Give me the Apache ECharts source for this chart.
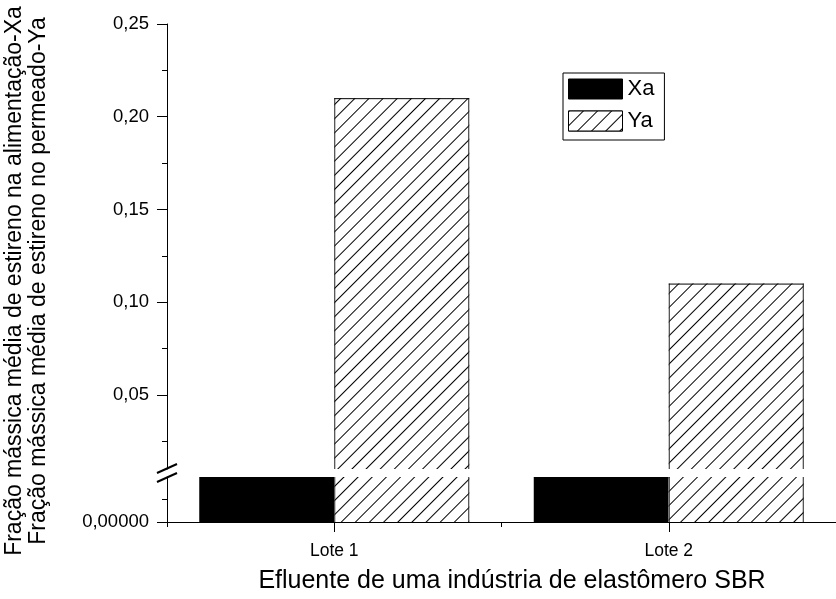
<!DOCTYPE html>
<html>
<head>
<meta charset="utf-8">
<script src="https://cdn.jsdelivr.net/npm/echarts@6/dist/echarts.min.js"></script>
<style>html,body{margin:0;padding:0;background:#fff}#c{width:836px;height:599px}</style>
</head>
<body>
<div id="c"></div>
<script>
const categories = ['Lote 1', 'Lote 2'];
const xaValues = [0.0001, 0.0001];
const yaValues = [0.21, 0.11];
const upperMajorTicks = [0.05, 0.10, 0.15, 0.20, 0.25];
const upperMinorTicks = [0.025, 0.075, 0.125, 0.175, 0.225];
const lowerMajorTicks = [0];
const lowerMinorTicks = [0.00005];
const upperRange = [0.01, 0.25];
const lowerRange = [0, 0.0001];

const FONT = 'Liberation Sans, Arial, sans-serif';
const BAR_W = 135;
const chart = echarts.init(document.getElementById('c'), null, {renderer: 'canvas'});
const hatch = {
  symbol: 'rect', symbolSize: 1, dashArrayX: [1, 9], dashArrayY: [1, 0],
  rotation: Math.PI / 4, color: '#000', backgroundColor: '#fff'
};
const fmt = v => v === 0 ? '0,00000' : v.toFixed(2).replace('.', ',');
const axisLine = {show: true, lineStyle: {color: '#000', width: 1}};

function outline(params, api) {
  const cs = params.coordSys;
  const p = api.coord([api.value(0), api.value(1)]);
  const left = p[0], right = p[0] + BAR_W;
  const bottom = cs.y + cs.height;
  const inside = p[1] >= cs.y;
  const top = inside ? p[1] : cs.y;
  const st = {stroke: '#222', lineWidth: 1};
  const kids = [
    {type: 'line', shape: {x1: left + 0.5, y1: top, x2: left + 0.5, y2: bottom}, style: st},
    {type: 'line', shape: {x1: right - 0.5, y1: top, x2: right - 0.5, y2: bottom}, style: st}
  ];
  if (inside) kids.push({type: 'line', shape: {x1: left, y1: top + 0.5, x2: right, y2: top + 0.5}, style: {stroke: '#000', lineWidth: 1}});
  return {type: 'group', children: kids};
}
const yaPairs = yaValues.map((v, i) => [i, v]);

const option = {
  animation: false,
  backgroundColor: '#fff',
  grid: [
    {left: 167, top: 24, width: 676, height: 445},
    {left: 167, top: 477, width: 676, height: 45}
  ],
  legend: {
    left: 563, top: 73, orient: 'vertical', itemWidth: 54, itemHeight: 20, itemGap: 10, icon: 'rect',
    padding: [5, 10, 8, 5], borderColor: '#000', borderWidth: 1,
    itemStyle: {borderColor: '#000', borderWidth: 1},
    textStyle: {fontFamily: FONT, fontSize: 22, color: '#000'},
    data: ['Xa', 'Ya']
  },
  xAxis: [
    {gridIndex: 0, type: 'category', data: categories, show: false},
    {gridIndex: 1, type: 'category', data: categories, position: 'bottom',
     axisLine: axisLine,
     axisTick: {show: true, alignWithLabel: true, length: 10, lineStyle: {color: '#000'}},
     axisLabel: {fontFamily: FONT, fontSize: 17.5, color: '#000', margin: 20}},
    {gridIndex: 1, type: 'category', data: categories, position: 'bottom',
     axisLine: {show: false},
     axisTick: {show: true, length: 5, lineStyle: {color: '#000'}},
     axisLabel: {show: false}}
  ],
  yAxis: [
    {gridIndex: 0, type: 'value', min: upperRange[0], max: upperRange[1], position: 'left',
     axisLine: axisLine, splitLine: {show: false},
     axisTick: {show: true, length: 10, customValues: upperMajorTicks, lineStyle: {color: '#000'}},
     axisLabel: {customValues: upperMajorTicks, formatter: fmt, fontFamily: FONT, fontSize: 18.5, color: '#000', margin: 18}},
    {gridIndex: 0, type: 'value', min: upperRange[0], max: upperRange[1], position: 'left', offset: 0,
     axisLine: {show: false}, splitLine: {show: false},
     axisTick: {show: true, length: 5, customValues: upperMinorTicks, lineStyle: {color: '#000'}},
     axisLabel: {show: false}},
    {gridIndex: 1, type: 'value', min: lowerRange[0], max: lowerRange[1], position: 'left',
     axisLine: axisLine, splitLine: {show: false},
     axisTick: {show: true, length: 10, customValues: lowerMajorTicks, lineStyle: {color: '#000'}},
     axisLabel: {customValues: lowerMajorTicks, formatter: fmt, fontFamily: FONT, fontSize: 18.5, color: '#000', margin: 18}},
    {gridIndex: 1, type: 'value', min: lowerRange[0], max: lowerRange[1], position: 'left', offset: 0,
     axisLine: {show: false}, splitLine: {show: false},
     axisTick: {show: true, length: 5, customValues: lowerMinorTicks, lineStyle: {color: '#000'}},
     axisLabel: {show: false}}
  ],
  series: [
    {name: 'Xa', type: 'bar', xAxisIndex: 0, yAxisIndex: 0, data: xaValues, barWidth: BAR_W, barGap: '0%', clip: true,
     itemStyle: {color: '#000', borderColor: '#000', borderWidth: 0}},
    {name: 'Ya', type: 'bar', xAxisIndex: 0, yAxisIndex: 0, data: yaValues, barWidth: BAR_W, barGap: '0%', clip: true,
     itemStyle: {color: '#fff', borderColor: '#000', borderWidth: 0, decal: hatch}},
    {name: 'Xa', type: 'bar', xAxisIndex: 1, yAxisIndex: 2, data: xaValues, barWidth: BAR_W, barGap: '0%', clip: true,
     itemStyle: {color: '#000', borderWidth: 0}},
    {name: 'Ya', type: 'bar', xAxisIndex: 1, yAxisIndex: 2, data: yaValues, barWidth: BAR_W, barGap: '0%', clip: true,
     itemStyle: {color: '#fff', borderWidth: 0, decal: hatch}},
    {name: 'YaOutline', type: 'custom', xAxisIndex: 0, yAxisIndex: 0, data: yaPairs, renderItem: outline,
     encode: {x: 0, y: 1}, z: 5, silent: true},
    {name: 'YaOutline2', type: 'custom', xAxisIndex: 1, yAxisIndex: 2, data: yaPairs, renderItem: outline,
     encode: {x: 0, y: 1}, z: 5, silent: true}
  ],
  graphic: [
    {type: 'line', shape: {x1: 157, y1: 473, x2: 177, y2: 464}, style: {stroke: '#000', lineWidth: 2}, z: 100},
    {type: 'line', shape: {x1: 157, y1: 482, x2: 177, y2: 473}, style: {stroke: '#000', lineWidth: 2}, z: 100},
    {type: 'text', x: 512, y: 581, style: {text: 'Efluente de uma indústria de elastômero SBR', fontFamily: FONT,
      fontSize: 25, fill: '#000', textAlign: 'center', textVerticalAlign: 'middle'}},
    {type: 'text', x: 27, y: 281, rotation: Math.PI / 2, style: {
      text: 'Fração mássica média de estireno na alimentação-Xa\nFração mássica média de estireno no permeado-Ya',
      fontFamily: FONT, fontSize: 23, lineHeight: 24, fill: '#000', textAlign: 'center', textVerticalAlign: 'middle'}}
  ]
};
chart.setOption(option);
</script>
</body>
</html>
